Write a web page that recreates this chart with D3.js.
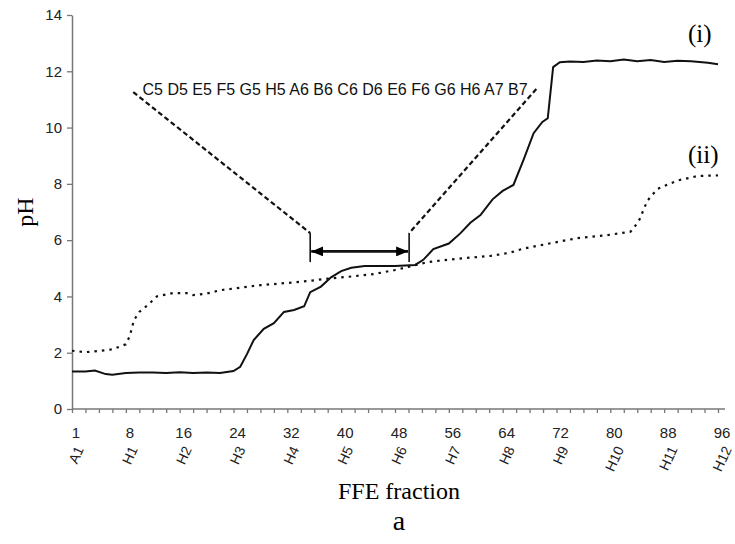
<!DOCTYPE html>
<html>
<head>
<meta charset="utf-8">
<script src="https://cdn.jsdelivr.net/npm/d3@7"></script>
<style>
  body { margin: 0; background: #fff; }
</style>
</head>
<body>
<div id="chart"></div>
<script>
// axis labels
const fractionLabels = ["1", "8", "16", "24", "32", "40", "48", "56", "64", "72", "80", "88", "96"];
const wellLabels = ["A1", "H1", "H2", "H3", "H4", "H5", "H6", "H7", "H8", "H9", "H10", "H11", "H12"];
const yTicks = [0, 2, 4, 6, 8, 10, 12, 14];

// curve (i): position along the fraction axis, pH
const curve1Pos = [0, 2, 3.4, 5, 6, 8, 10, 12, 14, 16, 18, 20, 22, 24, 25, 26, 27, 28.5, 30, 31.5, 33, 34.5, 35.4, 37, 38.5, 40, 41.5, 43.5, 48, 51, 52.2, 53.7, 56, 57.7, 59.2, 60.7, 62.5, 64, 65.6, 67.1, 68.6, 69.9, 70.7, 71.5, 72.5, 74, 76, 78, 80, 82, 84, 86, 88, 90, 92, 94.5, 96];
const curve1PH = [1.33, 1.33, 1.37, 1.24, 1.22, 1.28, 1.3, 1.3, 1.28, 1.31, 1.28, 1.3, 1.28, 1.35, 1.5, 1.95, 2.45, 2.85, 3.05, 3.45, 3.52, 3.65, 4.15, 4.35, 4.68, 4.9, 5.02, 5.08, 5.08, 5.12, 5.3, 5.68, 5.88, 6.24, 6.62, 6.89, 7.45, 7.75, 7.96, 8.85, 9.8, 10.2, 10.33, 12.15, 12.32, 12.35, 12.33, 12.38, 12.36, 12.42, 12.36, 12.4, 12.33, 12.37, 12.36, 12.3, 12.25];

// curve (ii)
const curve2Pos = [0, 2, 4, 6, 8, 8.6, 9.2, 10, 11.3, 12.6, 15, 17, 18, 20, 22, 24, 26, 28, 31, 34, 38, 42, 45, 48, 50, 52.8, 57.3, 62.2, 65, 67.1, 72.2, 75.1, 79.6, 83, 84.2, 85.5, 87, 90, 93, 96];
const curve2PH = [2.07, 2.02, 2.06, 2.12, 2.3, 2.6, 3.15, 3.45, 3.7, 4.0, 4.12, 4.12, 4.05, 4.1, 4.22, 4.28, 4.34, 4.4, 4.46, 4.52, 4.63, 4.72, 4.8, 4.94, 5.05, 5.22, 5.34, 5.44, 5.55, 5.7, 5.94, 6.07, 6.18, 6.3, 6.66, 7.4, 7.82, 8.12, 8.28, 8.3];

// annotation
const wellRange = "C5 D5 E5 F5 G5 H5 A6 B6 C6 D6 E6 F6 G6 H6 A7 B7";
const bracketPos = [35.4, 50.1];
const bracketPH = [5.22, 6.25];
const arrowPH = 5.6;
const leaderTopPos = [9.1, 69.0];
const leaderTopPH = [11.26, 11.37];

const width = 735;
const height = 544;

const x = d3.scaleLinear().domain([0, 96]).range([72, 718]);
const y = d3.scaleLinear().domain([0, 14]).range([409, 15]);

const svg = d3.select("#chart")
  .append("svg")
  .attr("width", width)
  .attr("height", height)
  .style("font-family", "'Liberation Sans', Arial, sans-serif");

svg.append("defs").append("marker")
  .attr("id", "head")
  .attr("markerUnits", "userSpaceOnUse")
  .attr("markerWidth", 12)
  .attr("markerHeight", 10)
  .attr("refX", 12)
  .attr("refY", 5)
  .attr("orient", "auto-start-reverse")
  .append("path")
  .attr("d", "M0,0L12,5L0,10Z")
  .attr("fill", "#000");

// x axis
const xAxis = svg.append("g")
  .attr("transform", `translate(0,${y(0)})`)
  .call(d3.axisBottom(x).tickValues(d3.range(0, 97, 2)).tickSize(4).tickFormat(""));
xAxis.select(".domain").remove();
xAxis.append("line")
  .attr("x1", x(0)).attr("x2", x(96) + 7)
  .attr("stroke", "#777").attr("stroke-width", 1.5);
xAxis.selectAll(".tick line").attr("stroke", "#777").attr("stroke-width", 1.3);

const labelPos = d3.range(0, 97, 8);

svg.append("g")
  .selectAll("text")
  .data(fractionLabels)
  .join("text")
  .attr("x", (d, i) => x(labelPos[i]) + 4)
  .attr("y", 438)
  .attr("text-anchor", "middle")
  .attr("font-size", 15)
  .attr("fill", "#222")
  .text(d => d);

svg.append("g")
  .selectAll("text")
  .data(wellLabels)
  .join("text")
  .attr("text-anchor", "middle")
  .attr("dominant-baseline", "central")
  .attr("font-size", 14)
  .attr("fill", "#222")
  .text(d => d)
  .each(function (d, i) {
    const len = this.getComputedTextLength();
    const cx = x(labelPos[i]) + 4;
    const cy = 445 + (0.906 * len + 4.2) / 2;
    d3.select(this).attr("transform", `translate(${cx},${cy}) rotate(-65)`);
  });

// y axis
const yAxis = svg.append("g")
  .attr("transform", `translate(${x(0)},0)`)
  .call(d3.axisLeft(y).tickValues(yTicks).tickSize(5).tickSizeOuter(0).tickPadding(5));
yAxis.select(".domain").attr("stroke", "#777").attr("stroke-width", 1.5);
yAxis.selectAll(".tick line").attr("stroke", "#777").attr("stroke-width", 1.3);
yAxis.selectAll(".tick text")
  .attr("font-size", 15)
  .attr("font-family", "'Liberation Sans', Arial, sans-serif")
  .attr("fill", "#222");

// curves
const line = d3.line().x(d => x(d[0])).y(d => y(d[1]));

svg.append("path")
  .datum(d3.zip(curve2Pos, curve2PH))
  .attr("d", line)
  .attr("fill", "none")
  .attr("stroke", "#111")
  .attr("stroke-width", 2.2)
  .attr("stroke-dasharray", "2.5,5");

svg.append("path")
  .datum(d3.zip(curve1Pos, curve1PH))
  .attr("d", line)
  .attr("fill", "none")
  .attr("stroke", "#111")
  .attr("stroke-width", 2);

// bracket, arrow and leaders
const ann = svg.append("g").attr("stroke", "#111");

ann.selectAll(".bar")
  .data(bracketPos)
  .join("line")
  .attr("x1", d => x(d)).attr("x2", d => x(d))
  .attr("y1", y(bracketPH[0])).attr("y2", y(bracketPH[1]))
  .attr("stroke-width", 1.6);

ann.append("line")
  .attr("x1", x(bracketPos[0]) + 1).attr("x2", x(bracketPos[1]) - 1)
  .attr("y1", y(arrowPH)).attr("y2", y(arrowPH))
  .attr("stroke-width", 2.6)
  .attr("marker-start", "url(#head)")
  .attr("marker-end", "url(#head)");

ann.selectAll(".leader")
  .data([0, 1])
  .join("line")
  .attr("x1", i => x(leaderTopPos[i]))
  .attr("y1", i => y(leaderTopPH[i]))
  .attr("x2", i => x(bracketPos[i]))
  .attr("y2", y(bracketPH[1]))
  .attr("stroke-width", 2.2)
  .attr("stroke-dasharray", "5,3");

svg.append("text")
  .attr("x", x(39.1))
  .attr("y", y(11.34))
  .attr("text-anchor", "middle")
  .attr("dominant-baseline", "central")
  .attr("font-size", 16)
  .attr("fill", "#111")
  .text(wellRange);

// curve names
const serif = "'Liberation Serif', 'Times New Roman', serif";
svg.append("text")
  .attr("x", x(93.3)).attr("y", y(13.36))
  .attr("text-anchor", "middle").attr("dominant-baseline", "central")
  .attr("font-family", serif).attr("font-size", 25)
  .text("(i)");
svg.append("text")
  .attr("x", x(93.8)).attr("y", y(9.03))
  .attr("text-anchor", "middle").attr("dominant-baseline", "central")
  .attr("font-family", serif).attr("font-size", 25)
  .text("(ii)");

// titles
svg.append("text")
  .attr("transform", "translate(33,212) rotate(-90)")
  .attr("text-anchor", "middle")
  .attr("font-family", serif).attr("font-size", 24)
  .text("pH");

svg.append("text")
  .attr("x", 399).attr("y", 499)
  .attr("text-anchor", "middle")
  .attr("font-family", serif).attr("font-size", 24)
  .text("FFE fraction");

svg.append("text")
  .attr("x", 399).attr("y", 530)
  .attr("text-anchor", "middle")
  .attr("font-family", serif).attr("font-size", 28)
  .text("a");
</script>
</body>
</html>
